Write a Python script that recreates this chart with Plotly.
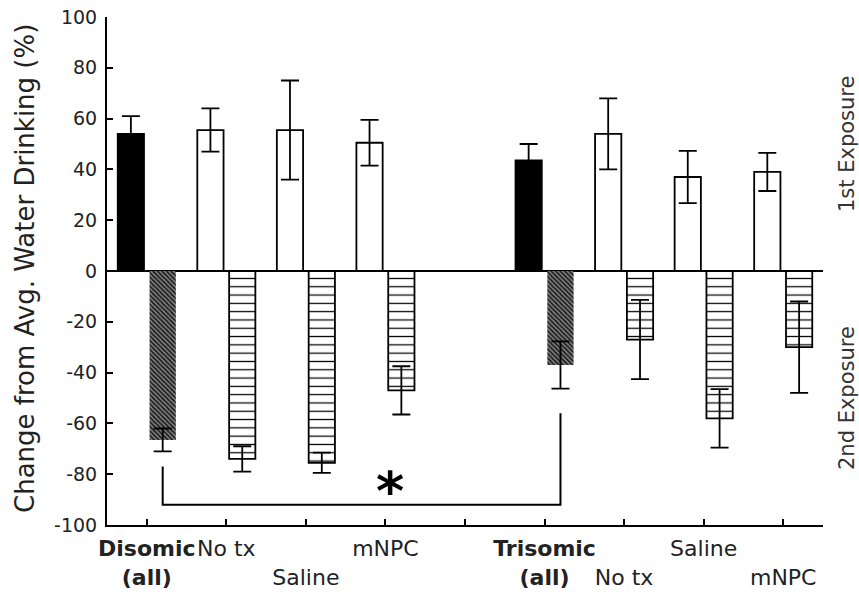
import plotly.graph_objects as go

# ---- data ----
categories = ["Disomic (all)", "No tx", "Saline", "mNPC", "",
              "Trisomic (all)", "No tx", "Saline", "mNPC"]
tick_labels = ["<b>Disomic</b><br><b>(all)</b>", "No tx", "<br>Saline", "mNPC", "",
               "<b>Trisomic</b><br><b>(all)</b>", "<br>No tx", "Saline", "<br>mNPC"]
first_exposure = [54, 55.5, 55.5, 50.5, None, 43.5, 54, 37, 39]
first_err = [7, 8.5, 19.5, 9, None, 6.5, 14, 10.3, 7.5]
second_exposure = [-66.5, -74, -75.5, -47, None, -37, -27, -58, -30]
second_err = [4.5, 5, 4, 9.5, None, 9.3, 15.6, 11.5, 18]
y_ticks = [-100, -80, -60, -40, -20, 0, 20, 40, 60, 80, 100]
y_tick_labels = ["-100", "-80", "-60", "-40", "-20", "0", "20", "40", "60", "80", "100"]

# significance bracket (Disomic all vs Trisomic all, 2nd exposure)
bracket_from = 0
bracket_to = 5
bracket_left_top = -77
bracket_right_top = -56
bracket_bottom = -92

xs = list(range(len(categories)))
is_all = [c.endswith("(all)") for c in categories]

BAR_W = 0.33
OFF1 = -0.365
OFF2 = 0.035
FONT = "DejaVu Sans"

fig = go.Figure()

fig.add_trace(go.Bar(
    x=xs, y=first_exposure, width=BAR_W, offset=OFF1,
    marker=dict(color=["black" if a else "white" for a in is_all],
                line=dict(color="black", width=1.8)),
    error_y=dict(type="data", array=first_err, color="black", thickness=1.8, width=9),
    showlegend=False,
))

fig.add_trace(go.Bar(
    x=xs, y=second_exposure, width=BAR_W, offset=OFF2,
    marker=dict(color="white",
                line=dict(color="black", width=[0 if a else 1.8 for a in is_all]),
                pattern=dict(shape=["\\" if a else "-" for a in is_all],
                             size=[3.2 if a else 8.3 for a in is_all],
                             solidity=[0.55 if a else 0.15 for a in is_all],
                             fgcolor=["#1a1a1a" if a else "black" for a in is_all],
                             bgcolor=["#8a8a8a" if a else "white" for a in is_all],
                             fillmode="replace")),
    error_y=dict(type="data", array=second_err, color="black", thickness=1.8, width=9),
    showlegend=False,
))

# bracket
c1 = bracket_from + OFF2 + BAR_W / 2
c2 = bracket_to + OFF2 + BAR_W / 2
fig.add_trace(go.Scatter(
    x=[c1, c1, c2, c2],
    y=[bracket_left_top, bracket_bottom, bracket_bottom, bracket_right_top],
    mode="lines", line=dict(color="black", width=2), showlegend=False, hoverinfo="skip",
))

fig.add_annotation(x=3.06, y=-87, text="<b>*</b>", showarrow=False,
                   font=dict(family=FONT, size=54, color="black"))

# y title and right-side labels
fig.add_annotation(xref="paper", yref="paper", x=(25 - 107) / 716, y=0.504,
                   xanchor="center", yanchor="middle",
                   text="Change from Avg. Water Drinking (%)", textangle=-90,
                   showarrow=False, font=dict(family=FONT, size=26, color="#222"))
fig.add_annotation(xref="paper", yref="paper", x=(847 - 107) / 716, y=0.75,
                   xanchor="center", yanchor="middle",
                   text="1st Exposure", textangle=-90, showarrow=False,
                   font=dict(family=FONT, size=21, color="#333"))
fig.add_annotation(xref="paper", yref="paper", x=(847 - 107) / 716, y=0.25,
                   xanchor="center", yanchor="middle",
                   text="2nd Exposure", textangle=-90, showarrow=False,
                   font=dict(family=FONT, size=21, color="#333"))

fig.update_layout(
    width=859, height=598,
    margin=dict(l=107, r=36, t=17, b=73, autoexpand=False),
    plot_bgcolor="white", paper_bgcolor="white",
    font=dict(family=FONT, color="#222"),
    barmode="overlay",
)
fig.update_xaxes(
    range=[-0.5, len(categories) - 0.5],
    tickmode="array", tickvals=xs, ticktext=tick_labels, tickangle=0,
    tickfont=dict(family=FONT, size=22, color="#222"), ticklabelstandoff=3,
    ticks="inside", ticklen=6, tickwidth=1.5, tickcolor="black",
    showline=True, linecolor="black", linewidth=2,
    showgrid=False, zeroline=False, automargin=False,
)
fig.update_yaxes(
    range=[-100, 100],
    tickmode="array", tickvals=y_ticks, ticktext=y_tick_labels,
    tickfont=dict(family=FONT, size=19, color="#222"), ticklabelstandoff=4,
    ticks="inside", ticklen=6, tickwidth=1.5, tickcolor="black",
    showline=True, linecolor="black", linewidth=2,
    showgrid=False, zeroline=True, zerolinecolor="black", zerolinewidth=2,
    automargin=False,
)

fig.write_html("out.html")
